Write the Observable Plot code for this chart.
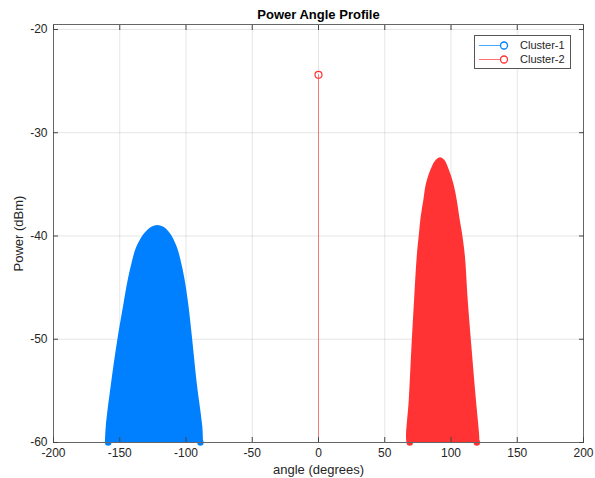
<!DOCTYPE html>
<html>
<head>
<meta charset="utf-8">
<script src="https://cdn.jsdelivr.net/npm/d3@7"></script>
<script src="https://cdn.jsdelivr.net/npm/@observablehq/plot@0.6"></script>
<style>
  html, body { margin: 0; padding: 0; background: white; }
</style>
</head>
<body>
<div id="chart"></div>
<script>
// ---- data (outer outline of the dense stems) ----
const cluster1Angle = [-160.8, -160.2, -156.2, -151.5, -146.9, -143.9, -141.1, -137.6, -132.5, -128.5, -125.4, -121.3, -117.1, -114.1, -110.6, -106.2, -102.9, -100.4, -97.9, -94.9, -91.5, -87.3, -86.8];
const cluster1Power = [-60, -58.52, -54.31, -50.12, -46.66, -44.47, -42.86, -41.24, -40.0, -39.42, -39.13, -38.98, -39.13, -39.42, -40.0, -41.24, -42.86, -44.47, -46.66, -50.12, -54.31, -58.52, -60];

const cluster2Angle = [66.8, 66.4, 68.5, 70.4, 72.5, 74.5, 76.2, 77.5, 79.5, 81.5, 85.8, 89.1, 92.1, 95.1, 97.9, 102.1, 104.7, 106.6, 108.7, 110.9, 113.0, 116.0, 119.2, 121.7, 121.7];
const cluster2Power = [-60, -59.49, -55.93, -51.09, -46.25, -42.05, -39.79, -38.18, -36.56, -34.94, -33.34, -32.64, -32.42, -32.64, -33.34, -34.94, -36.56, -38.18, -39.79, -42.05, -46.25, -51.09, -55.93, -59.49, -60];

// outermost stems of each cluster (markers at the baseline)
const edgeAngle1 = [-158.7, -89.1];
const edgeAngle2 = [68.9, 119.5];
const edgePower = [-60, -60];

// single isolated stem
const stemAngle = [0];
const stemPower = [-24.39];

const seriesNames = ["Cluster-1", "Cluster-2"];
const xTicks = [-200, -150, -100, -50, 0, 50, 100, 150, 200];
const yTicks = [-60, -50, -40, -30, -20];
const titleText = "Power Angle Profile";
const xLabel = "angle (degrees)";
const yLabel = "Power (dBm)";

// ---- build tables ----
const zip = (xs, ys) => xs.map((a, i) => ({angle: a, power: ys[i]}));
const c1 = zip(cluster1Angle, cluster1Power);
const c2 = zip(cluster2Angle, cluster2Power);
const e1 = zip(edgeAngle1, edgePower);
const e2 = zip(edgeAngle2, edgePower);
const stem = zip(stemAngle, stemPower);

const BLUE = "#0080ff";
const RED = "#ff3333";
const TXT = "#262626";
const FONT = "'Liberation Sans', Arial, Helvetica, sans-serif";
const fmt = d => String(d);

const chart = Plot.plot({
  width: 595,
  height: 478,
  marginLeft: 53,
  marginRight: 12,
  marginTop: 24,
  marginBottom: 36,
  style: {fontFamily: FONT, fontSize: "12px", color: TXT, background: "white", overflow: "visible"},
  x: {domain: [-200, 200]},
  y: {domain: [-60, -19.52]},
  marks: [
    Plot.gridX(xTicks, {stroke: "#000", strokeOpacity: 0.1}),
    Plot.gridY(yTicks, {stroke: "#000", strokeOpacity: 0.1}),
    // cluster 1 (dense stems)
    Plot.areaY(c1, {x: "angle", y1: -60, y2: "power", fill: BLUE, curve: "catmull-rom"}),
    Plot.dot(e1, {x: "angle", y: "power", r: 3.2, fill: BLUE}),
    // cluster 2 (dense stems)
    Plot.areaY(c2, {x: "angle", y1: -60, y2: "power", fill: RED, curve: "catmull-rom"}),
    Plot.dot(e2, {x: "angle", y: "power", r: 3.2, fill: RED}),
    // single stem
    Plot.ruleX(stem, {x: "angle", y1: -60, y2: "power", stroke: RED, strokeOpacity: 0.6}),
    Plot.dot(stem, {x: "angle", y: "power", r: 3.5, stroke: RED, strokeWidth: 1.2, fill: "none"}),
    // frame & axes
    Plot.frame({stroke: "#666"}),
    Plot.axisX(xTicks, {anchor: "bottom", tickSize: 0, tickPadding: 6, tickFormat: fmt, label: null, fill: TXT}),
    Plot.axisX(xTicks, {anchor: "bottom", tickSize: -5, tickFormat: () => "", label: null, stroke: "#444"}),
    Plot.axisX(xTicks, {anchor: "top", tickSize: -5, tickFormat: () => "", label: null, stroke: "#444"}),
    Plot.axisY(yTicks, {anchor: "left", tickSize: 0, tickPadding: 6, tickFormat: fmt, label: null, fill: TXT}),
    Plot.axisY(yTicks, {anchor: "left", tickSize: -5, tickFormat: () => "", label: null, stroke: "#444"}),
    Plot.axisY(yTicks, {anchor: "right", tickSize: -5, tickFormat: () => "", label: null, stroke: "#444"}),
    // titles
    Plot.text([titleText], {frameAnchor: "top", dy: -10, lineAnchor: "middle", textAnchor: "middle", text: d => d, fontWeight: "bold", fontSize: 13, fill: "#000"}),
    Plot.text([xLabel], {frameAnchor: "bottom", dy: 27, lineAnchor: "middle", textAnchor: "middle", text: d => d, fontSize: 13, fill: TXT}),
    Plot.text([yLabel], {frameAnchor: "left", dx: -35, rotate: -90, lineAnchor: "middle", textAnchor: "middle", text: d => d, fontSize: 13, fill: TXT})
  ]
});

document.getElementById("chart").appendChild(chart);

// ---- legend (inside axes, top-right) ----
const svg = d3.select(chart);
const lg = svg.append("g").attr("font-family", FONT).attr("font-size", 11).attr("text-anchor", "start");
lg.append("rect").attr("x", 474.5).attr("y", 35.5).attr("width", 96).attr("height", 33)
  .attr("fill", "white").attr("stroke", "#555").attr("stroke-width", 1);
const legendColors = [BLUE, RED];
seriesNames.forEach((name, i) => {
  const y = 45.5 + i * 14;
  lg.append("line").attr("x1", 479).attr("x2", 504).attr("y1", y).attr("y2", y)
    .attr("stroke", legendColors[i]).attr("stroke-opacity", 0.7).attr("stroke-width", 1);
  lg.append("circle").attr("cx", 504).attr("cy", y).attr("r", 3.5)
    .attr("fill", "white").attr("stroke", legendColors[i]).attr("stroke-width", 1.3);
  lg.append("text").attr("x", 520).attr("y", y).attr("dy", "0.35em")
    .attr("text-anchor", "start").attr("fill", TXT).text(name);
});
</script>
</body>
</html>
